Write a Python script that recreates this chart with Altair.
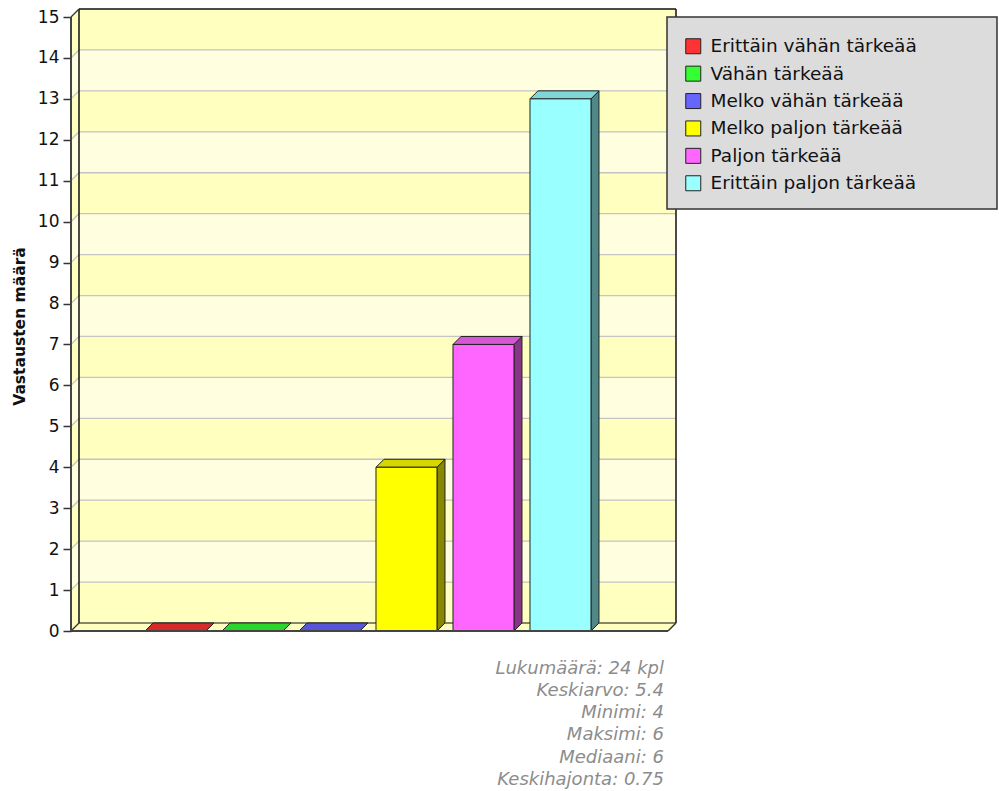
import altair as alt
import pandas as pd

# ---- values ----
categories = [
    "Erittäin vähän tärkeää",
    "Vähän tärkeää",
    "Melko vähän tärkeää",
    "Melko paljon tärkeää",
    "Paljon tärkeää",
    "Erittäin paljon tärkeää",
]
counts = [0, 0, 0, 4, 7, 13]
front_colors = ["#ff3333", "#33ff33", "#6666ff", "#ffff00", "#ff66ff", "#99ffff"]
y_ticks = list(range(0, 16))
y_title = "Vastausten määrä"
stats_lines = [
    "Lukumäärä: 24 kpl",
    "Keskiarvo: 5.4",
    "Minimi: 4",
    "Maksimi: 6",
    "Mediaani: 6",
    "Keskihajonta: 0.75",
]

# ---- geometry of the pseudo-3D frame ----
STEP_PX = 77.0      # pixels per category
UNIT_PX = 40.93     # pixels per answer
DEPTH_PX = 8.0      # depth of the 3D effect
Y_MAX = 15
LEFT_GAP = 1.357    # categories between the front axis and the first bar centre
BAR_HALF = 0.396    # half bar width, in categories
PLOT_W = 605

DX = DEPTH_PX / STEP_PX
DY = DEPTH_PX / UNIT_PX
X0 = -LEFT_GAP
X1 = X0 + PLOT_W / STEP_PX
XF = X1 - DX
Y_TOP = Y_MAX + DY
PLOT_H = round(Y_TOP * UNIT_PX)

BAND_DARK = "#ffffc0"
BAND_LIGHT = "#ffffe0"


def shade(hex_color, f):
    r, g, b = (int(hex_color[i:i + 2], 16) for i in (1, 3, 5))
    return "#{:02x}{:02x}{:02x}".format(*(min(255, round(c * f)) for c in (r, g, b)))


# walls: alternating bands across left wall and back wall, plus the floor
wall_rows = []
for v in range(Y_MAX):
    fill = BAND_DARK if v % 2 == 0 else BAND_LIGHT
    face = f"band{v}"
    wall_rows += [
        dict(face=face, x=X0, y=v, y2=v + 1, fill=fill),
        dict(face=face, x=X0 + DX, y=v + DY, y2=v + 1 + DY, fill=fill),
        dict(face=face, x=X1, y=v + DY, y2=v + 1 + DY, fill=fill),
    ]
wall_rows += [
    dict(face="floor", x=X0, y=0, y2=0, fill=BAND_DARK),
    dict(face="floor", x=X0 + DX, y=0, y2=DY, fill=BAND_DARK),
    dict(face="floor", x=XF, y=0, y2=DY, fill=BAND_DARK),
    dict(face="floor", x=X1, y=DY, y2=DY, fill=BAND_DARK),
]
walls_df = pd.DataFrame(wall_rows)

# edges: grid lines and frame outline
line_rows = []


def seg(name, pts, color, width):
    for k, (x, y) in enumerate(pts):
        line_rows.append(dict(seg=name, o=k, x=x, y=y, stroke=color, w=width))


for v in range(1, Y_MAX):
    seg(f"grid{v}", [(X0, v), (X0 + DX, v + DY), (X1, v + DY)], "#c4c4c4", 1.3)
seg("back_left", [(X0 + DX, DY), (X0 + DX, Y_TOP)], "#111111", 1.5)
seg("back_top", [(X0 + DX, Y_TOP), (X1, Y_TOP)], "#111111", 1.5)
seg("back_right", [(X1, DY), (X1, Y_TOP)], "#111111", 1.5)
seg("back_bottom", [(X0 + DX, DY), (X1, DY)], "#111111", 1.2)
seg("left_top", [(X0, Y_MAX), (X0 + DX, Y_TOP)], "#333333", 1.2)
seg("left_bottom", [(X0, 0), (X0 + DX, DY)], "#333333", 1.2)
seg("floor_right", [(XF, 0), (X1, DY)], "#333333", 1.5)
lines_df = pd.DataFrame(line_rows)

axis_rows = []
for k, (x, y) in enumerate([(X0, 0), (XF, 0)]):
    axis_rows.append(dict(seg="floor_front", o=k, x=x, y=y))
for k, (x, y) in enumerate([(X0, 0), (X0, Y_MAX)]):
    axis_rows.append(dict(seg="y_axis", o=k, x=x, y=y))
axis_df = pd.DataFrame(axis_rows)

# bars: front, top and side faces
front_rows, top_rows, side_rows = [], [], []
for i, (cat, v, col) in enumerate(zip(categories, counts, front_colors)):
    xl, xr = i - BAR_HALF, i + BAR_HALF
    front_rows.append(dict(category=cat, x=xl, x2=xr, y=0, y2=v))
    top = shade(col, 0.84)
    face = f"top{i}"
    top_rows += [
        dict(face=face, x=xl, y=v, y2=v, fill=top),
        dict(face=face, x=xl + DX, y=v + DY, y2=v, fill=top),
        dict(face=face, x=xr, y=v + DY, y2=v, fill=top),
        dict(face=face, x=xr + DX, y=v + DY, y2=v + DY, fill=top),
    ]
    if v > 0:
        side = shade(col, 0.53)
        face = f"side{i}"
        side_rows += [
            dict(face=face, x=xr, y=0, y2=v, fill=side),
            dict(face=face, x=xr + DX, y=DY, y2=v + DY, fill=side),
        ]
front_df = pd.DataFrame(front_rows)
top_df = pd.DataFrame(top_rows)
side_df = pd.DataFrame(side_rows)

# ---- encodings ----
xsc = alt.Scale(domain=[X0, X1], nice=False, zero=False)
ysc = alt.Scale(domain=[0, Y_TOP], nice=False, zero=False)

y_axis = alt.Axis(
    values=y_ticks,
    title=y_title,
    domain=False,
    grid=False,
    tickSize=8,
    tickColor="#333333",
    tickWidth=1.5,
    labelFont="DejaVu Sans",
    labelFontSize=17,
    labelColor="#111111",
    labelPadding=4,
    labelOverlap=False,
    titleFont="DejaVu Sans",
    titleFontSize=15.5,
    titleFontWeight="bold",
    titleColor="#111111",
    titleAngle=270,
    titleAlign="center",
    titleBaseline="alphabetic",
    titleX=-47,
    titleY=317,
)

X = alt.X("x:Q", scale=xsc, axis=None)
Y = alt.Y("y:Q", scale=ysc, axis=y_axis, stack=None)
Y2 = alt.Y2("y2:Q")

walls = alt.Chart(walls_df).mark_area(interpolate="linear").encode(
    x=X, y=Y, y2=Y2, detail="face:N", color=alt.Color("fill:N", scale=None)
)

edges = alt.Chart(lines_df).mark_line(interpolate="linear").encode(
    x=X,
    y=Y,
    detail="seg:N",
    order=alt.Order("o:Q"),
    color=alt.Color("stroke:N", scale=None),
    strokeWidth=alt.StrokeWidth("w:Q", scale=None),
)

sides = alt.Chart(side_df).mark_area(stroke="#222222", strokeWidth=1).encode(
    x=X, y=Y, y2=Y2, detail="face:N", color=alt.Color("fill:N", scale=None)
)

tops = alt.Chart(top_df).mark_area(stroke="#222222", strokeWidth=1).encode(
    x=X, y=Y, y2=Y2, detail="face:N", color=alt.Color("fill:N", scale=None)
)

fronts = alt.Chart(front_df).mark_rect(stroke="#222222", strokeWidth=1).encode(
    x=X,
    x2=alt.X2("x2:Q"),
    y=Y,
    y2=Y2,
    color=alt.Color(
        "category:N",
        scale=alt.Scale(domain=categories, range=front_colors),
        legend=alt.Legend(
            orient="none",
            legendX=613,
            legendY=28,
            title=None,
            symbolType="square",
            symbolSize=225,
            symbolStrokeColor="#111111",
            symbolStrokeWidth=1,
            symbolOpacity=1,
            labelFont="DejaVu Sans",
            labelFontSize=18.5,
            labelColor="#111111",
            labelLimit=400,
            labelOffset=8,
            rowPadding=7.4,
            padding=0,
        ),
    ),
)

axis_lines = alt.Chart(axis_df).mark_line(color="#444444", strokeWidth=2).encode(
    x=X, y=Y, detail="seg:N", order=alt.Order("o:Q")
)

legend_box = alt.Chart(pd.DataFrame({"k": [0]})).mark_rect(
    fill="#dcdcdc", stroke="#333333", strokeWidth=1.5
).encode(
    x=alt.value(596), x2=alt.value(926), y=alt.value(8), y2=alt.value(200)
)

chart = alt.layer(
    walls, edges, sides, tops, fronts, axis_lines, legend_box
).properties(
    width=PLOT_W,
    height=PLOT_H,
    padding={"left": 71, "top": 9, "right": 999 - 71 - PLOT_W, "bottom": 791 - 9 - PLOT_H},
    autosize="none",
    background="#ffffff",
    title=alt.TitleParams(
        text=stats_lines,
        orient="bottom",
        anchor="end",
        frame="group",
        font="DejaVu Sans",
        fontSize=18,
        fontStyle="italic",
        fontWeight="normal",
        color="#8c8c8c",
        lineHeight=22.3,
        dx=-12,
        offset=20.5,
    ),
).configure_view(strokeOpacity=0)

chart.save("out.html", embed_options={"renderer": "svg", "actions": False})
